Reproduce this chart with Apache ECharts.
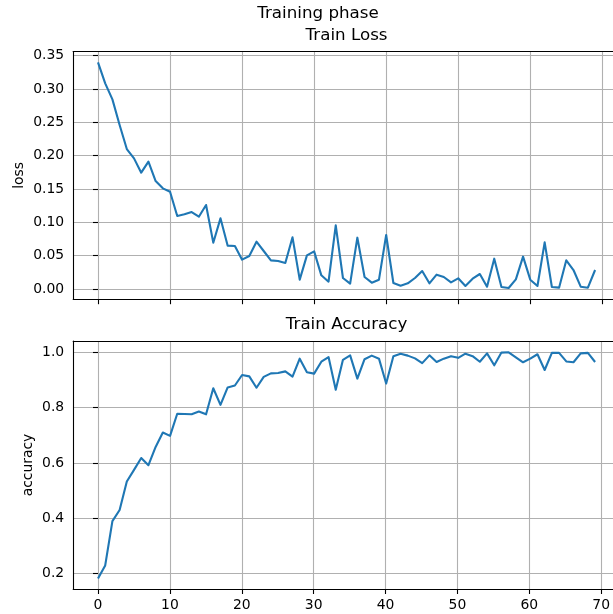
<!DOCTYPE html>
<html>
<head>
<meta charset="utf-8">
<script src="https://cdn.jsdelivr.net/npm/echarts@6/dist/echarts.min.js"></script>
<style>
html,body{margin:0;padding:0;background:#fff;}
#chart{width:613px;height:614px;}
</style>
</head>
<body>
<div id="chart"></div>
<script>
// ---- data ----
const trainLoss = [0.340,0.3085,0.2845,0.246,0.210,0.196,0.1745,0.191,0.162,0.151,
  0.146,0.1095,0.112,0.1155,0.1085,0.126,0.0695,0.106,0.065,0.0645,
  0.044,0.0495,0.071,0.057,0.043,0.042,0.039,0.0775,0.014,0.0505,
  0.0565,0.0205,0.011,0.0955,0.0165,0.008,0.077,0.018,0.0095,0.014,
  0.081,0.009,0.005,0.0085,0.0165,0.027,0.0085,0.0215,0.018,0.010,
  0.016,0.0045,0.0155,0.0225,0.0035,0.0455,0.003,0.0015,0.0145,0.0485,
  0.014,0.0045,0.070,0.003,0.002,0.043,0.0285,0.0035,0.002,0.0285];
const trainAcc = [0.183,0.230,0.390,0.430,0.533,0.575,0.618,0.592,0.658,0.710,
  0.698,0.778,0.777,0.776,0.786,0.776,0.870,0.810,0.873,0.880,
  0.918,0.913,0.872,0.911,0.924,0.925,0.931,0.912,0.977,0.928,
  0.923,0.966,0.983,0.865,0.973,0.989,0.905,0.975,0.988,0.977,
  0.887,0.986,0.995,0.988,0.978,0.961,0.989,0.965,0.977,0.986,
  0.980,0.995,0.986,0.966,0.996,0.953,0.999,1.000,0.982,0.964,
  0.977,0.993,0.936,0.998,0.998,0.967,0.964,0.996,0.998,0.965];
const epochs = trainLoss.map((_, i) => i);
const xTicks = [0, 70, 10];          // min, max, step
const lossTicks = [0, 0.35, 0.05];
const accTicks = [0.2, 1.0, 0.2];
const titles = {sup: 'Training phase', loss: 'Train Loss', acc: 'Train Accuracy'};
const yNames = {loss: 'loss', acc: 'accuracy'};

// ---- layout (pixels) ----
const FONT = 'DejaVu Sans';
const W = 613;
const X0 = 98, X70 = 602.3;
const xs = (X70 - X0) / 70;
const xMinF = -3.45;
const FL = X0 + xMinF * xs, FR = W;           // frame runs past the right edge in the original
const xMaxF = (FR - X0) / xs;

const panels = [
  {data: trainLoss, ticks: lossTicks, name: yNames.loss, gap: 47, fTop: 51.5, fBot: 299.2, pHi: 55.7, pLo: 289, fmt: v => v.toFixed(2), xLabels: false},
  {data: trainAcc, ticks: accTicks, name: yNames.acc, gap: 38, fTop: 341, fBot: 589, pHi: 352.3, pLo: 573.7, fmt: v => v.toFixed(1), xLabels: true}
];

const grid = [], xAxis = [], yAxis = [], series = [];
const axisTxt = {fontFamily: FONT, fontSize: 13.9, color: '#000'};
const gridLine = {show: true, lineStyle: {color: '#b0b0b0', width: 1.1}};
const tick = {show: true, inside: false, length: 5, lineStyle: {color: '#000', width: 1.1}};
const spine = {show: true, onZero: false, lineStyle: {color: '#000', width: 1.1}};
const hidden = {axisTick: {show: false}, axisLabel: {show: false}, splitLine: {show: false}};

panels.forEach((p, k) => {
  const base = grid.length;
  const [lo, hi, step] = p.ticks;
  const ys = (p.pLo - p.pHi) / (hi - lo);
  const yMinF = lo - (p.fBot - p.pLo) / ys;
  const yMaxF = hi + (p.pHi - p.fTop) / ys;
  // frame grid (holds series and spines)
  grid.push({left: FL, top: p.fTop, width: FR - FL, height: p.fBot - p.fTop});
  xAxis.push(Object.assign({gridIndex: base, type: 'value', min: xMinF, max: xMaxF, position: 'bottom', axisLine: spine}, hidden));
  xAxis.push(Object.assign({gridIndex: base, type: 'value', min: xMinF, max: xMaxF, position: 'top', axisLine: spine}, hidden));
  yAxis.push(Object.assign({gridIndex: base, type: 'value', min: yMinF, max: yMaxF, position: 'left', axisLine: spine,
    name: p.name, nameLocation: 'middle', nameGap: p.gap, nameRotate: 90,
    nameTextStyle: {fontFamily: FONT, fontSize: 13.9, color: '#000'}}, hidden));
  const fx = xAxis.length - 2, fy = yAxis.length - 1;
  // y-axis grid (tick positions)
  grid.push({left: FL, top: p.pHi, width: FR - FL, height: p.pLo - p.pHi});
  xAxis.push({gridIndex: base + 1, type: 'value', min: xMinF, max: xMaxF, show: false});
  yAxis.push({gridIndex: base + 1, type: 'value', min: lo, max: hi, interval: step,
    axisLine: {show: false}, axisTick: tick, splitLine: gridLine,
    axisLabel: Object.assign({margin: 9, formatter: p.fmt}, axisTxt)});
  // x-axis grid (tick positions)
  grid.push({left: X0, top: p.fTop, width: X70 - X0, height: p.fBot - p.fTop});
  xAxis.push({gridIndex: base + 2, type: 'value', min: xTicks[0], max: xTicks[1], interval: xTicks[2],
    position: 'bottom', axisLine: {show: false}, axisTick: tick, splitLine: gridLine,
    axisLabel: Object.assign({show: p.xLabels, margin: 9}, axisTxt)});
  yAxis.push({gridIndex: base + 2, type: 'value', min: 0, max: 1, show: false});

  series.push({type: 'line', xAxisIndex: fx, yAxisIndex: fy,
    data: epochs.map(i => [i, p.data[i]]), showSymbol: false, symbol: 'none',
    lineStyle: {color: '#1f77b4', width: 2.1, join: 'round', cap: 'butt'},
    clip: true, z: 5, animation: false});
});

const titleStyle = {fontFamily: FONT, fontSize: 16.7, fontWeight: 'normal', color: '#000'};
const axesCenter = X0 + (xMinF + 72.45) / 2 * xs;
const option = {
  backgroundColor: '#fff',
  animation: false,
  title: [
    {text: titles.sup, left: 318, top: 5.5, textAlign: 'center', padding: 0, textStyle: titleStyle},
    {text: titles.loss, left: axesCenter, top: 27, textAlign: 'center', padding: 0, textStyle: titleStyle},
    {text: titles.acc, left: axesCenter, top: 316.5, textAlign: 'center', padding: 0, textStyle: titleStyle}
  ],
  grid, xAxis, yAxis, series
};
const chart = echarts.init(document.getElementById('chart'), null, {renderer: 'canvas'});
chart.setOption(option);
</script>
</body>
</html>
